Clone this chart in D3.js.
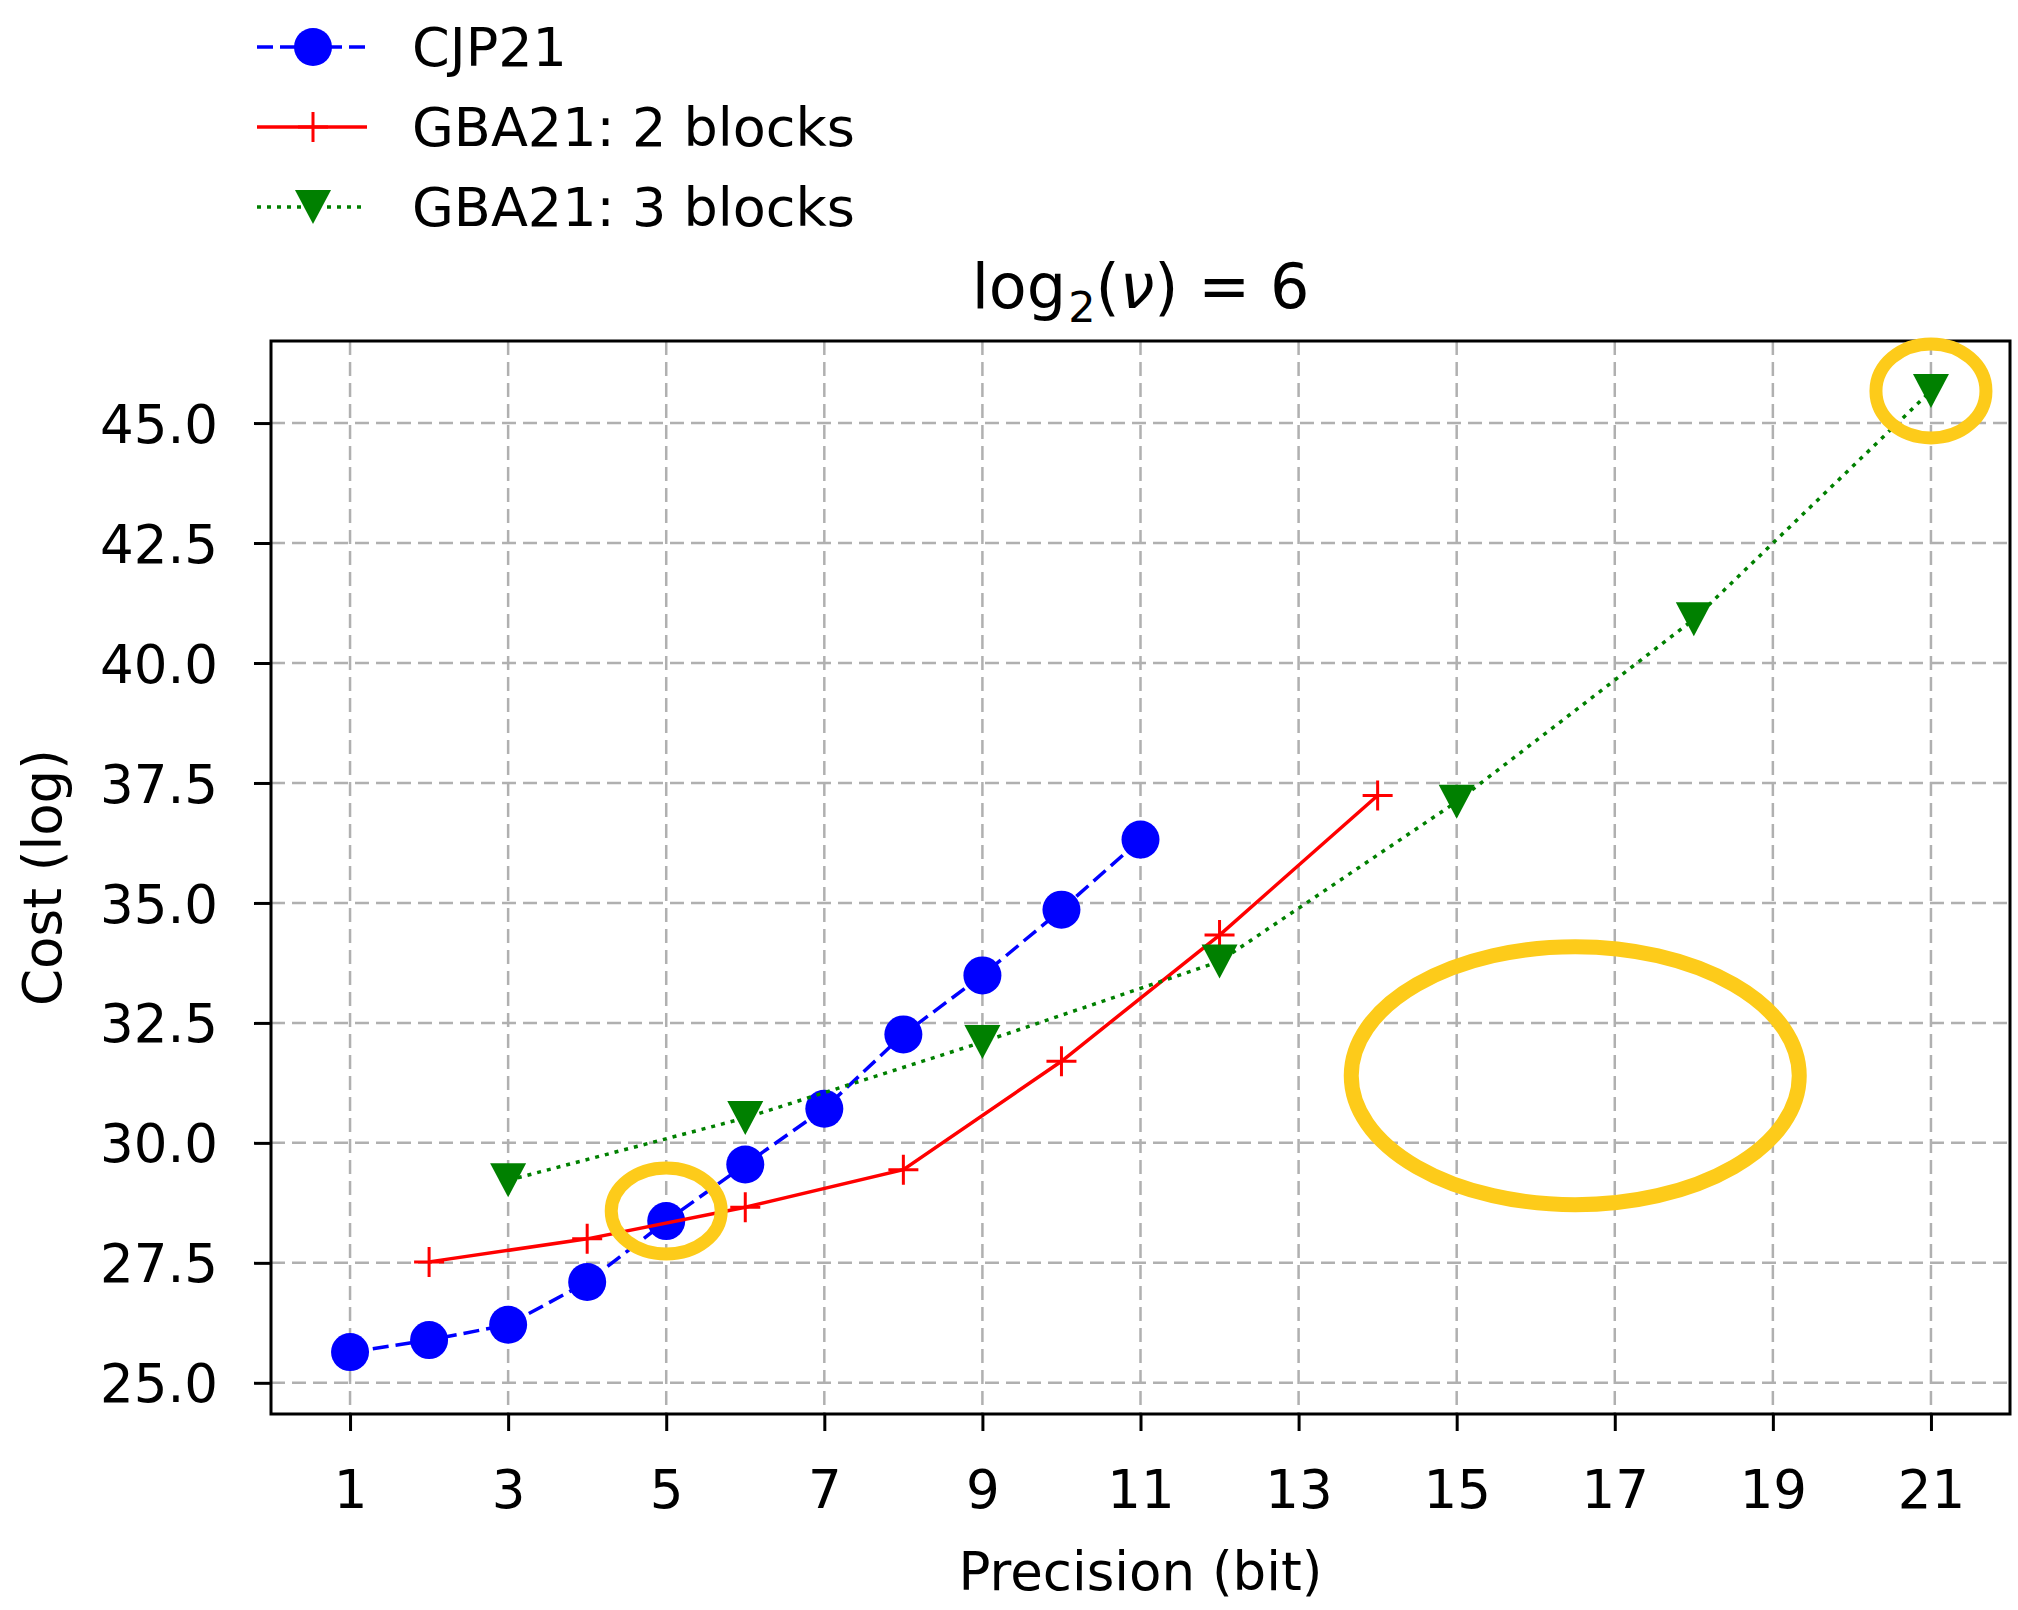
<!DOCTYPE html>
<html>
<head>
<meta charset="utf-8">
<script src="https://cdn.jsdelivr.net/npm/d3@7"></script>
<style>
  body { margin: 0; background: #fff; }
  text { font-family: "DejaVu Sans", sans-serif; fill: #000; }
</style>
</head>
<body>
<div id="chart"></div>
<script>
// tick labels
const precisionTicks = [1, 3, 5, 7, 9, 11, 13, 15, 17, 19, 21];
const costTicks = [25, 27.5, 30, 32.5, 35, 37.5, 40, 42.5, 45];

// series
const cjpBits = [1, 2, 3, 4, 5, 6, 7, 8, 9, 10, 11];
const cjpCost = [25.64, 25.89, 26.21, 27.10, 28.37, 29.55, 30.71, 32.26, 33.49, 34.86, 36.32];

const gba2Bits = [2, 4, 6, 8, 10, 12, 14];
const gba2Cost = [27.52, 28.00, 28.66, 29.44, 31.70, 34.33, 37.24];

const gba3Bits = [3, 6, 9, 12, 15, 18, 21];
const gba3Cost = [29.22, 30.52, 32.10, 33.78, 37.11, 40.91, 45.67];

const seriesNames = ['CJP21', 'GBA21: 2 blocks', 'GBA21: 3 blocks'];

// yellow highlight rings, centred in data units
const highlightBits = [5, 21, 16.5];
const highlightCost = [28.58, 45.67, 31.40];

const W = 2018, H = 1610;
const box = { left: 271, right: 2010, top: 341, bottom: 1414 };
const FONT = 53;

const x = d3.scaleLinear().domain([0, 22]).range([box.left, box.right]);
const y = d3.scaleLinear().domain([24.35, 46.71]).range([box.bottom, box.top]);

const svg = d3.select('#chart').append('svg')
  .attr('width', W)
  .attr('height', H);

svg.append('rect').attr('width', W).attr('height', H).attr('fill', '#fff');

// grid
const grid = svg.append('g').attr('stroke', '#b0b0b0').attr('stroke-width', 2.5)
  .attr('stroke-dasharray', '14,7');
grid.selectAll('.gx').data(precisionTicks).enter().append('line')
  .attr('x1', d => x(d)).attr('x2', d => x(d))
  .attr('y1', box.top).attr('y2', box.bottom);
grid.selectAll('.gy').data(costTicks).enter().append('line')
  .attr('x1', box.left).attr('x2', box.right)
  .attr('y1', d => y(d)).attr('y2', d => y(d));

// axes
const xAxis = d3.axisBottom(x).tickValues(precisionTicks).tickSize(17).tickPadding(39)
  .tickFormat(d3.format('d'));
const yAxis = d3.axisLeft(y).tickValues(costTicks).tickSize(17).tickPadding(36)
  .tickFormat(d3.format('.1f'));

const gx = svg.append('g').attr('transform', `translate(0,${box.bottom})`).call(xAxis);
const gy = svg.append('g').attr('transform', `translate(${box.left},0)`).call(yAxis);
[gx, gy].forEach(g => {
  g.select('.domain').remove();
  g.selectAll('line').attr('stroke', '#000').attr('stroke-width', 3);
  g.selectAll('text').style('font-size', FONT + 'px').attr('fill', '#000')
    .style('font-family', '"DejaVu Sans", sans-serif');
});
gy.selectAll('text').attr('dy', '0.36em');

// markers
const drawMarker = (g, kind, px, py) => {
  if (kind === 'circle') {
    g.append('circle').attr('cx', px).attr('cy', py).attr('r', 19).attr('fill', '#0000ff');
  } else if (kind === 'plus') {
    g.append('path')
      .attr('d', `M${px - 15},${py}H${px + 15}M${px},${py - 15}V${py + 15}`)
      .attr('stroke', '#ff0000').attr('stroke-width', 3).attr('fill', 'none');
  } else {
    g.append('path')
      .attr('d', `M${px - 18},${py - 17}L${px + 18},${py - 17}L${px},${py + 17}Z`)
      .attr('fill', '#008000');
  }
};

const series = [
  { name: seriesNames[0], xs: cjpBits, ys: cjpCost, color: '#0000ff', dash: '16,7', width: 3.5, marker: 'circle' },
  { name: seriesNames[1], xs: gba2Bits, ys: gba2Cost, color: '#ff0000', dash: null, width: 3.5, marker: 'plus' },
  { name: seriesNames[2], xs: gba3Bits, ys: gba3Cost, color: '#008000', dash: '4,6', width: 3.5, marker: 'tri' },
];

const line = d3.line().x(d => x(d[0])).y(d => y(d[1]));

series.forEach(s => {
  const pts = s.xs.map((v, i) => [v, s.ys[i]]);
  const g = svg.append('g');
  g.append('path')
    .attr('d', line(pts))
    .attr('fill', 'none')
    .attr('stroke', s.color)
    .attr('stroke-width', s.width)
    .attr('stroke-dasharray', s.dash);
  pts.forEach(p => drawMarker(g, s.marker, x(p[0]), y(p[1])));
});

// frame
svg.append('rect')
  .attr('x', box.left).attr('y', box.top)
  .attr('width', box.right - box.left).attr('height', box.bottom - box.top)
  .attr('fill', 'none').attr('stroke', '#000').attr('stroke-width', 3);

// axis labels
svg.append('text')
  .attr('x', (box.left + box.right) / 2).attr('y', 1590)
  .attr('text-anchor', 'middle').style('font-size', FONT + 'px')
  .text('Precision (bit)');

svg.append('text')
  .attr('transform', `translate(61,${(box.top + box.bottom) / 2}) rotate(-90)`)
  .attr('text-anchor', 'middle').style('font-size', FONT + 'px')
  .text('Cost (log)');

// title: log_2(nu) = 6
const title = svg.append('text')
  .attr('x', (box.left + box.right) / 2).attr('y', 308)
  .attr('text-anchor', 'middle').style('font-size', '62px')
  .attr('xml:space', 'preserve');
title.append('tspan').text('log');
title.append('tspan').attr('dy', 14).attr('dx', 2).style('font-size', '43px').text('2');
title.append('tspan').attr('dy', -14).text('(');
title.append('tspan').style('font-style', 'italic').text('ν');
title.append('tspan').text(') = 6');
</script>
<script>
// legend and highlight rings drawn on top
(() => {
  const svg = d3.select('#chart svg');
  const x = d3.scaleLinear().domain([0, 22]).range([271, 2010]);
  const y = d3.scaleLinear().domain([24.35, 46.71]).range([1414, 341]);
  const styles = [
    { color: '#0000ff', dash: '16,7', marker: 'circle' },
    { color: '#ff0000', dash: null, marker: 'plus' },
    { color: '#008000', dash: '4,6', marker: 'tri' },
  ];
  const mark = (g, kind, px, py) => {
    if (kind === 'circle') {
      g.append('circle').attr('cx', px).attr('cy', py).attr('r', 19).attr('fill', '#0000ff');
    } else if (kind === 'plus') {
      g.append('path')
        .attr('d', `M${px - 15},${py}H${px + 15}M${px},${py - 15}V${py + 15}`)
        .attr('stroke', '#ff0000').attr('stroke-width', 3).attr('fill', 'none');
    } else {
      g.append('path')
        .attr('d', `M${px - 18},${py - 17}L${px + 18},${py - 17}L${px},${py + 17}Z`)
        .attr('fill', '#008000');
    }
  };

  const legend = svg.append('g');
  seriesNames.forEach((name, i) => {
    const ry = 47 + i * 80;
    legend.append('line')
      .attr('x1', 257).attr('x2', 367).attr('y1', ry).attr('y2', ry)
      .attr('stroke', styles[i].color).attr('stroke-width', 3.5)
      .attr('stroke-dasharray', styles[i].dash);
    mark(legend, styles[i].marker, 313, ry);
    legend.append('text')
      .attr('x', 412).attr('y', ry).attr('dy', '0.36em')
      .style('font-size', '54px')
      .text(name);
  });

  const ringSize = [[55, 43, 13], [55, 47, 13], [224, 129, 15]];
  svg.append('g').selectAll('ellipse')
    .data(highlightBits)
    .enter().append('ellipse')
    .attr('cx', d => x(d))
    .attr('cy', (d, i) => y(highlightCost[i]))
    .attr('rx', (d, i) => ringSize[i][0])
    .attr('ry', (d, i) => ringSize[i][1])
    .attr('fill', 'none')
    .attr('stroke', '#fdcb1a')
    .attr('stroke-width', (d, i) => ringSize[i][2]);
})();
</script>
</body>
</html>
